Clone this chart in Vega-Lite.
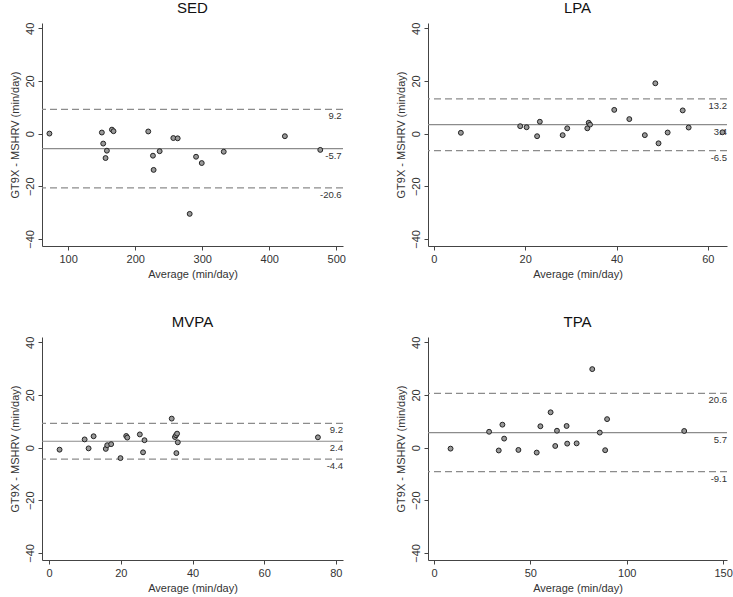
{
  "$schema": "https://vega.github.io/schema/vega-lite/v6.json",
  "background": "white",
  "padding": {"left": 9, "top": 1, "right": 5, "bottom": 5},
  "datasets": {
    "sed": [
      {"avg": 72.1, "diff": 0.0}, {"avg": 150.3, "diff": 0.4}, {"avg": 152.3, "diff": -3.8},
      {"avg": 157.8, "diff": -6.5}, {"avg": 155.8, "diff": -9.3}, {"avg": 165.3, "diff": 1.5},
      {"avg": 167.7, "diff": 0.9}, {"avg": 219.5, "diff": 0.8}, {"avg": 226.5, "diff": -8.4},
      {"avg": 227.5, "diff": -13.8}, {"avg": 236.5, "diff": -6.7}, {"avg": 256.9, "diff": -1.7},
      {"avg": 263.4, "diff": -1.8}, {"avg": 281.3, "diff": -30.5}, {"avg": 290.8, "diff": -8.8},
      {"avg": 299.3, "diff": -11.2}, {"avg": 332.1, "diff": -6.9}, {"avg": 423.3, "diff": -1.0},
      {"avg": 476.1, "diff": -6.2}
    ],
    "sed_lines": [
      {"diff": 9.2, "kind": "limit", "label": "9.2", "side": "above"},
      {"diff": -5.7, "kind": "mean", "label": "-5.7", "side": "below"},
      {"diff": -20.6, "kind": "limit", "label": "-20.6", "side": "below"}
    ],
    "lpa": [
      {"avg": 5.9, "diff": 0.3}, {"avg": 18.9, "diff": 2.8}, {"avg": 20.3, "diff": 2.4},
      {"avg": 22.6, "diff": -1.0}, {"avg": 23.2, "diff": 4.5}, {"avg": 28.2, "diff": -0.6},
      {"avg": 29.2, "diff": 2.0}, {"avg": 33.6, "diff": 2.0}, {"avg": 33.9, "diff": 4.1},
      {"avg": 34.2, "diff": 3.4}, {"avg": 39.5, "diff": 9.0}, {"avg": 42.8, "diff": 5.5},
      {"avg": 46.2, "diff": -0.6}, {"avg": 48.5, "diff": 19.1}, {"avg": 49.2, "diff": -3.7},
      {"avg": 51.2, "diff": 0.4}, {"avg": 54.5, "diff": 8.8}, {"avg": 55.8, "diff": 2.3},
      {"avg": 63.2, "diff": 0.5}
    ],
    "lpa_lines": [
      {"diff": 13.2, "kind": "limit", "label": "13.2", "side": "above"},
      {"diff": 3.4, "kind": "mean", "label": "3.4", "side": "above"},
      {"diff": -6.5, "kind": "limit", "label": "-6.5", "side": "below"}
    ],
    "mvpa": [
      {"avg": 2.9, "diff": -0.8}, {"avg": 9.9, "diff": 3.1}, {"avg": 11.0, "diff": -0.3},
      {"avg": 12.4, "diff": 4.3}, {"avg": 15.8, "diff": -0.5}, {"avg": 16.2, "diff": 0.9},
      {"avg": 17.3, "diff": 1.3}, {"avg": 19.9, "diff": -4.0}, {"avg": 21.5, "diff": 4.4},
      {"avg": 21.8, "diff": 3.8}, {"avg": 25.3, "diff": 5.0}, {"avg": 26.2, "diff": -1.8},
      {"avg": 26.6, "diff": 2.8}, {"avg": 34.2, "diff": 11.0}, {"avg": 35.1, "diff": 4.0},
      {"avg": 35.4, "diff": 4.7}, {"avg": 35.7, "diff": 5.3}, {"avg": 35.5, "diff": -2.1},
      {"avg": 35.9, "diff": 2.0}, {"avg": 75.0, "diff": 3.9}
    ],
    "mvpa_lines": [
      {"diff": 9.2, "kind": "limit", "label": "9.2", "side": "above"},
      {"diff": 2.4, "kind": "mean", "label": "2.4", "side": "below"},
      {"diff": -4.4, "kind": "limit", "label": "-4.4", "side": "below"}
    ],
    "tpa": [
      {"avg": 8.6, "diff": -0.4}, {"avg": 28.6, "diff": 6.0}, {"avg": 33.6, "diff": -1.1},
      {"avg": 35.5, "diff": 8.7}, {"avg": 36.4, "diff": 3.4}, {"avg": 43.8, "diff": -0.9},
      {"avg": 53.3, "diff": -1.9}, {"avg": 55.2, "diff": 8.1}, {"avg": 60.5, "diff": 13.4},
      {"avg": 62.9, "diff": 0.6}, {"avg": 63.8, "diff": 6.4}, {"avg": 68.8, "diff": 8.2},
      {"avg": 69.1, "diff": 1.5}, {"avg": 74.0, "diff": 1.6}, {"avg": 82.1, "diff": 29.8},
      {"avg": 86.0, "diff": 5.7}, {"avg": 88.8, "diff": -1.0}, {"avg": 89.8, "diff": 10.8},
      {"avg": 129.8, "diff": 6.3}
    ],
    "tpa_lines": [
      {"diff": 20.6, "kind": "limit", "label": "20.6", "side": "above"},
      {"diff": 5.7, "kind": "mean", "label": "5.7", "side": "below"},
      {"diff": -9.1, "kind": "limit", "label": "-9.1", "side": "below"}
    ]
  },
  "columns": 2,
  "spacing": {"row": 91, "column": 85},
  "bounds": "flush",
  "concat": [
    {
      "title": "SED",
      "width": 301,
      "height": 223,
      "encoding": {
        "y": {
          "field": "diff", "type": "quantitative",
          "scale": {"domain": [-42.7, 42], "nice": false, "zero": false},
          "axis": {"title": "GT9X - MSHRV (min/day)", "values": [-40, -20, 0, 20, 40]}
        }
      },
      "layer": [
        {
          "data": {"name": "sed_lines"},
          "mark": {"type": "rule", "color": "#8c8c8c", "strokeWidth": 1.2},
          "encoding": {
            "strokeDash": {"field": "kind", "type": "nominal", "scale": {"domain": ["limit", "mean"], "range": [[7, 4], [1, 0]]}, "legend": null}
          }
        },
        {
          "data": {"name": "sed_lines"},
          "mark": {"type": "text", "align": "right", "fontSize": 9.5, "color": "#333"},
          "encoding": {
            "x": {"datum": 508, "type": "quantitative"},
            "yOffset": {"condition": {"test": "datum.side === 'above'", "value": -5}, "value": 7},
            "text": {"field": "label"}
          }
        },
        {
          "data": {"name": "sed"},
          "mark": {"type": "point", "shape": "circle", "filled": true, "size": 24, "fill": "#999", "stroke": "#222", "strokeWidth": 1, "opacity": 1},
          "encoding": {
            "x": {
              "field": "avg", "type": "quantitative",
              "scale": {"domain": [61, 510], "nice": false, "zero": false},
              "axis": {"title": "Average (min/day)", "values": [100, 200, 300, 400, 500]}
            }
          }
        }
      ]
    },
    {
      "title": "LPA",
      "width": 299,
      "height": 223,
      "encoding": {
        "y": {
          "field": "diff", "type": "quantitative",
          "scale": {"domain": [-42.7, 42], "nice": false, "zero": false},
          "axis": {"title": "GT9X - MSHRV (min/day)", "values": [-40, -20, 0, 20, 40]}
        }
      },
      "layer": [
        {
          "data": {"name": "lpa_lines"},
          "mark": {"type": "rule", "color": "#8c8c8c", "strokeWidth": 1.2},
          "encoding": {
            "strokeDash": {"field": "kind", "type": "nominal", "scale": {"domain": ["limit", "mean"], "range": [[7, 4], [1, 0]]}, "legend": null}
          }
        },
        {
          "data": {"name": "lpa_lines"},
          "mark": {"type": "text", "align": "right", "fontSize": 9.5, "color": "#333"},
          "encoding": {
            "x": {"datum": 64.2, "type": "quantitative"},
            "yOffset": {"condition": {"test": "datum.side === 'above'", "value": -5}, "value": 7},
            "text": {"field": "label"}
          }
        },
        {
          "data": {"name": "lpa"},
          "mark": {"type": "point", "shape": "circle", "filled": true, "size": 24, "fill": "#999", "stroke": "#222", "strokeWidth": 1, "opacity": 1},
          "encoding": {
            "x": {
              "field": "avg", "type": "quantitative",
              "scale": {"domain": [-1.3, 64.2], "nice": false, "zero": false},
              "axis": {"title": "Average (min/day)", "values": [0, 20, 40, 60]}
            }
          }
        }
      ]
    },
    {
      "title": "MVPA",
      "width": 301,
      "height": 223,
      "encoding": {
        "y": {
          "field": "diff", "type": "quantitative",
          "scale": {"domain": [-42.7, 42], "nice": false, "zero": false},
          "axis": {"title": "GT9X - MSHRV (min/day)", "values": [-40, -20, 0, 20, 40]}
        }
      },
      "layer": [
        {
          "data": {"name": "mvpa_lines"},
          "mark": {"type": "rule", "color": "#8c8c8c", "strokeWidth": 1.2},
          "encoding": {
            "strokeDash": {"field": "kind", "type": "nominal", "scale": {"domain": ["limit", "mean"], "range": [[7, 4], [1, 0]]}, "legend": null}
          }
        },
        {
          "data": {"name": "mvpa_lines"},
          "mark": {"type": "text", "align": "right", "fontSize": 9.5, "color": "#333"},
          "encoding": {
            "x": {"datum": 82, "type": "quantitative"},
            "yOffset": {"condition": {"test": "datum.side === 'above'", "value": -5}, "value": 7},
            "text": {"field": "label"}
          }
        },
        {
          "data": {"name": "mvpa"},
          "mark": {"type": "point", "shape": "circle", "filled": true, "size": 24, "fill": "#999", "stroke": "#222", "strokeWidth": 1, "opacity": 1},
          "encoding": {
            "x": {
              "field": "avg", "type": "quantitative",
              "scale": {"domain": [-2, 82], "nice": false, "zero": false},
              "axis": {"title": "Average (min/day)", "values": [0, 20, 40, 60, 80]}
            }
          }
        }
      ]
    },
    {
      "title": "TPA",
      "width": 299,
      "height": 223,
      "encoding": {
        "y": {
          "field": "diff", "type": "quantitative",
          "scale": {"domain": [-42.7, 42], "nice": false, "zero": false},
          "axis": {"title": "GT9X - MSHRV (min/day)", "values": [-40, -20, 0, 20, 40]}
        }
      },
      "layer": [
        {
          "data": {"name": "tpa_lines"},
          "mark": {"type": "rule", "color": "#8c8c8c", "strokeWidth": 1.2},
          "encoding": {
            "strokeDash": {"field": "kind", "type": "nominal", "scale": {"domain": ["limit", "mean"], "range": [[7, 4], [1, 0]]}, "legend": null}
          }
        },
        {
          "data": {"name": "tpa_lines"},
          "mark": {"type": "text", "align": "right", "fontSize": 9.5, "color": "#333"},
          "encoding": {
            "x": {"datum": 152, "type": "quantitative"},
            "yOffset": {"condition": {"test": "datum.side === 'above'", "value": -5}, "value": 7},
            "text": {"field": "label"}
          }
        },
        {
          "data": {"name": "tpa"},
          "mark": {"type": "point", "shape": "circle", "filled": true, "size": 24, "fill": "#999", "stroke": "#222", "strokeWidth": 1, "opacity": 1},
          "encoding": {
            "x": {
              "field": "avg", "type": "quantitative",
              "scale": {"domain": [-3.1, 152], "nice": false, "zero": false},
              "axis": {"title": "Average (min/day)", "values": [0, 50, 100, 150]}
            }
          }
        }
      ]
    }
  ],
  "config": {
    "font": "Liberation Sans",
    "view": {"stroke": null},
    "axis": {
      "grid": false,
      "domainColor": "#444",
      "tickColor": "#444",
      "tickSize": 4,
      "labelFontSize": 11,
      "titleFontSize": 11,
      "labelColor": "#333",
      "titleColor": "#333",
      "titleFontWeight": "normal",
      "labelPadding": 3,
      "titlePadding": 4
    },
    "axisY": {"labelAngle": -90, "labelAlign": "center", "labelBaseline": "bottom"},
    "title": {"fontSize": 15, "fontWeight": "normal", "color": "#111", "offset": 6}
  }
}
